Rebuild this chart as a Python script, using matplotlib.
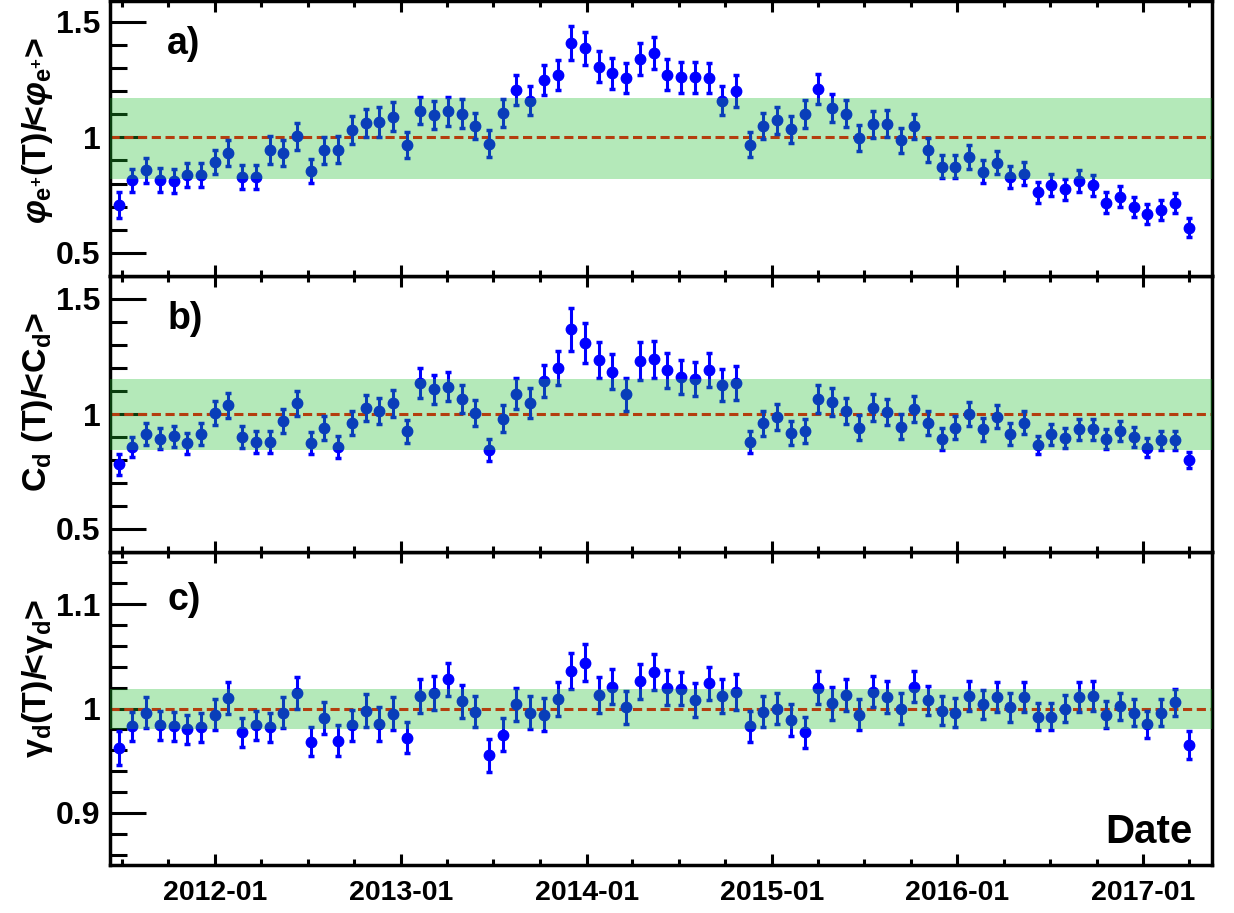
import numpy as np
import pandas as pd
import matplotlib
matplotlib.use("Agg")
import matplotlib.pyplot as plt
import matplotlib.dates as mdates
from matplotlib.ticker import MultipleLocator, FormatStrFormatter

plt.rcParams['font.family'] = ['Liberation Sans', 'DejaVu Sans']
plt.rcParams['font.weight'] = 'bold'
plt.rcParams['mathtext.fontset'] = 'custom'
plt.rcParams['mathtext.rm'] = 'Liberation Sans:bold'
plt.rcParams['mathtext.it'] = 'Liberation Sans:italic:bold'
plt.rcParams['mathtext.bf'] = 'Liberation Sans:bold'
plt.rcParams['mathtext.sf'] = 'Liberation Sans:bold'

# === data: one point per 27-day Bartels rotation ===
first_rotation = "2011-06-25"
n_rot = 79
dates = pd.date_range(first_rotation, periods=n_rot, freq="27D")

phi_ratio = [0.707, 0.815, 0.858, 0.815, 0.810, 0.836, 0.836, 0.894, 0.934, 0.829,
             0.829, 0.944, 0.932, 1.004, 0.855, 0.944, 0.947, 1.033, 1.062, 1.066,
             1.090, 0.966, 1.116, 1.095, 1.112, 1.102, 1.049, 0.973, 1.106, 1.206,
             1.159, 1.249, 1.270, 1.408, 1.385, 1.306, 1.277, 1.257, 1.339, 1.366,
             1.270, 1.260, 1.260, 1.256, 1.159, 1.200, 0.969, 1.049, 1.073, 1.034,
             1.102, 1.210, 1.128, 1.102, 0.997, 1.056, 1.059, 0.987, 1.047, 0.947,
             0.872, 0.872, 0.915, 0.851, 0.890, 0.829, 0.843, 0.762, 0.793, 0.775,
             0.812, 0.793, 0.718, 0.743, 0.700, 0.667, 0.685, 0.717, 0.609]
phi_err = [0.055, 0.050, 0.054, 0.051, 0.052, 0.052, 0.051, 0.053, 0.056, 0.053,
           0.052, 0.060, 0.058, 0.058, 0.053, 0.058, 0.058, 0.060, 0.062, 0.064,
           0.062, 0.055, 0.060, 0.061, 0.062, 0.062, 0.058, 0.060, 0.062, 0.064,
           0.062, 0.066, 0.066, 0.072, 0.070, 0.068, 0.066, 0.066, 0.069, 0.070,
           0.067, 0.066, 0.066, 0.066, 0.062, 0.070, 0.055, 0.058, 0.058, 0.057,
           0.060, 0.064, 0.060, 0.059, 0.055, 0.059, 0.058, 0.054, 0.056, 0.052,
           0.050, 0.050, 0.052, 0.049, 0.050, 0.049, 0.050, 0.046, 0.047, 0.046,
           0.047, 0.046, 0.045, 0.045, 0.044, 0.043, 0.044, 0.044, 0.041]

cd_ratio = [0.781, 0.858, 0.912, 0.893, 0.904, 0.872, 0.912, 1.003, 1.038, 0.901,
            0.878, 0.880, 0.970, 1.046, 0.872, 0.941, 0.857, 0.962, 1.025, 1.013,
            1.046, 0.926, 1.133, 1.107, 1.119, 1.064, 1.006, 0.843, 0.980, 1.088,
            1.046, 1.143, 1.201, 1.368, 1.307, 1.233, 1.184, 1.086, 1.230, 1.238,
            1.190, 1.161, 1.151, 1.191, 1.125, 1.136, 0.878, 0.959, 0.988, 0.916,
            0.926, 1.064, 1.052, 1.013, 0.941, 1.027, 1.009, 0.945, 1.023, 0.962,
            0.890, 0.941, 0.999, 0.933, 0.988, 0.912, 0.962, 0.865, 0.912, 0.897,
            0.933, 0.933, 0.890, 0.926, 0.900, 0.854, 0.886, 0.886, 0.799]
cd_err = [0.045, 0.043, 0.047, 0.046, 0.046, 0.046, 0.047, 0.052, 0.054, 0.048,
          0.048, 0.048, 0.052, 0.056, 0.048, 0.052, 0.048, 0.053, 0.056, 0.056,
          0.058, 0.050, 0.065, 0.063, 0.063, 0.060, 0.057, 0.048, 0.060, 0.068,
          0.065, 0.070, 0.073, 0.094, 0.087, 0.078, 0.075, 0.071, 0.082, 0.080,
          0.076, 0.074, 0.073, 0.075, 0.070, 0.074, 0.048, 0.055, 0.056, 0.052,
          0.052, 0.060, 0.060, 0.058, 0.054, 0.058, 0.058, 0.053, 0.056, 0.052,
          0.048, 0.050, 0.052, 0.049, 0.050, 0.048, 0.050, 0.041, 0.045, 0.044,
          0.045, 0.045, 0.043, 0.044, 0.043, 0.040, 0.042, 0.042, 0.035]

gamma_ratio = [0.962, 0.983, 0.996, 0.984, 0.983, 0.980, 0.982, 0.994, 1.010, 0.977,
               0.984, 0.982, 0.996, 1.015, 0.968, 0.991, 0.969, 0.984, 0.998, 0.985,
               0.995, 0.972, 1.012, 1.015, 1.028, 1.007, 0.997, 0.955, 0.975, 1.004,
               0.996, 0.994, 1.009, 1.036, 1.044, 1.013, 1.021, 1.001, 1.026, 1.035,
               1.020, 1.019, 1.008, 1.024, 1.012, 1.016, 0.983, 0.997, 1.000, 0.989,
               0.977, 1.020, 1.005, 1.013, 0.994, 1.016, 1.011, 1.000, 1.021, 1.008,
               0.998, 0.996, 1.012, 1.004, 1.011, 1.001, 1.011, 0.992, 0.992, 1.000,
               1.011, 1.012, 0.994, 1.002, 0.996, 0.985, 0.996, 1.006, 0.965]
gamma_err = [0.016, 0.014, 0.015, 0.014, 0.014, 0.014, 0.014, 0.015, 0.015, 0.014,
             0.014, 0.014, 0.015, 0.015, 0.014, 0.015, 0.015, 0.015, 0.016, 0.016,
             0.016, 0.015, 0.016, 0.016, 0.016, 0.016, 0.015, 0.016, 0.016, 0.016,
             0.016, 0.016, 0.016, 0.017, 0.018, 0.017, 0.017, 0.016, 0.017, 0.017,
             0.017, 0.016, 0.016, 0.016, 0.016, 0.017, 0.015, 0.015, 0.015, 0.015,
             0.015, 0.016, 0.016, 0.015, 0.015, 0.015, 0.015, 0.015, 0.015, 0.014,
             0.014, 0.014, 0.014, 0.014, 0.014, 0.014, 0.014, 0.013, 0.013, 0.013,
             0.014, 0.014, 0.013, 0.013, 0.013, 0.013, 0.013, 0.013, 0.013]

bands = [(0.82, 1.172), (0.845, 1.15), (0.98, 1.019)]
ylims = [(0.40, 1.59), (0.40, 1.60), (0.85, 1.15)]
ymajor = [0.5, 0.5, 0.1]
yminor = [0.1, 0.1, 0.02]
panel_tags = ["a)", "b)", "c)"]
ylabels = [r'$\varphi_{\mathrm{e^{+}}}$(T)/<$\varphi_{\mathrm{e^{+}}}$>',
           r'C$_{\mathrm{d}}$ (T)/<C$_{\mathrm{d}}$>',
           r'$\mathrm{\gamma}_{\mathrm{d}}$(T)/<$\mathrm{\gamma}_{\mathrm{d}}$>']
ylabel_y = [0.53, 0.545, 0.597]

# === layout (pixel based, 1234 x 913) ===
W_PX, H_PX = 1234, 913
fig = plt.figure(figsize=(W_PX / 100, H_PX / 100), dpi=100)
left, width = 110 / W_PX, 1102 / W_PX
ax_c = fig.add_axes([left, 48 / H_PX, width, 313 / H_PX])
ax_b = fig.add_axes([left, 361 / H_PX, width, 276 / H_PX], sharex=ax_c)
ax_a = fig.add_axes([left, 637 / H_PX, width, 275 / H_PX], sharex=ax_c)
axes = [ax_a, ax_b, ax_c]
series = [(phi_ratio, phi_err), (cd_ratio, cd_err), (gamma_ratio, gamma_err)]

band_color = (30 / 255, 189 / 255, 45 / 255)

for i, ax in enumerate(axes):
    vals, errs = series[i]
    ax.errorbar(dates, vals, yerr=errs, fmt='o', color='blue', ms=7.5,
                elinewidth=2.2, capsize=2, capthick=2.5, zorder=3)
    ax.axhline(1.0, color='red', ls=(0, (3, 1.5)), lw=2.2, zorder=2)
    ax.axhspan(bands[i][0], bands[i][1], color=band_color, alpha=0.33, lw=0, zorder=10)

    ax.set_ylim(*ylims[i])
    ax.yaxis.set_major_locator(MultipleLocator(ymajor[i]))
    ax.yaxis.set_minor_locator(MultipleLocator(yminor[i]))
    ax.yaxis.set_major_formatter(FormatStrFormatter('%g'))

    ax.tick_params(axis='y', which='both', direction='in', left=True, right=False,
                   width=2.2, labelsize=23, pad=7)
    ax.tick_params(axis='y', which='major', length=26)
    ax.tick_params(axis='y', which='minor', length=12)
    ax.tick_params(axis='x', which='both', direction='in', top=True, bottom=True,
                   width=2.2, labelsize=20.5, pad=11)
    ax.tick_params(axis='x', which='major', length=8)
    ax.tick_params(axis='x', which='minor', length=4.5)
    for s in ax.spines.values():
        s.set_linewidth(2.5)

    ax.set_ylabel(ylabels[i], fontsize=24.5, fontweight='bold')
    ax.yaxis.set_label_coords(-0.05, ylabel_y[i])
    ax.text(0.052, 0.91 if i < 2 else 0.905, panel_tags[i], transform=ax.transAxes,
            fontsize=27, fontweight='bold', ha='left', va='top')

ax_c.xaxis.set_major_locator(mdates.YearLocator())
ax_c.xaxis.set_minor_locator(mdates.MonthLocator(bymonth=[1, 4, 7, 10]))
ax_c.xaxis.set_major_formatter(mdates.DateFormatter('%Y-%m'))
ax_c.set_xlim(pd.Timestamp("2011-06-08"), pd.Timestamp("2017-05-16"))
for ax in (ax_a, ax_b):
    ax.tick_params(axis='x', labelbottom=False)
for lab in ax_c.get_xticklabels():
    lab.set_fontweight('bold')
for ax in axes:
    for lab in ax.get_yticklabels():
        lab.set_fontweight('bold')

ax_c.text(0.982, 0.07, "Date", transform=ax_c.transAxes, fontsize=29,
          fontweight='bold', ha='right', va='baseline')

fig.savefig("out.png", dpi=100)
